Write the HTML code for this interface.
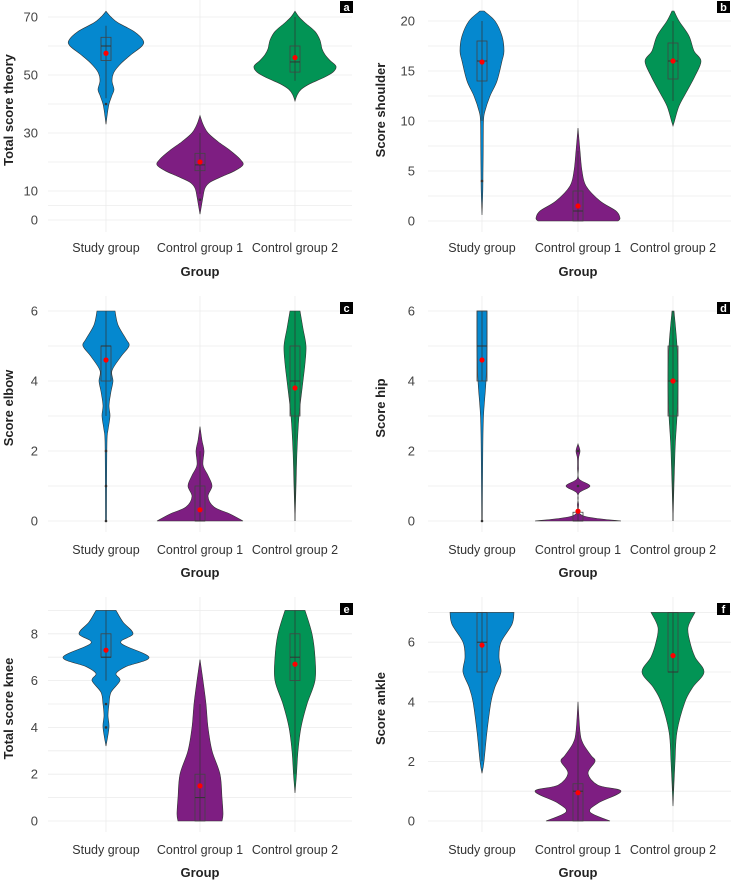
<!DOCTYPE html>
<html><head><meta charset="utf-8">
<style>
html,body{margin:0;padding:0;background:#fff;}
svg{display:block;font-family:"Liberation Sans",sans-serif;}
</style></head>
<body>
<svg id="chart" width="732" height="880" viewBox="0 0 732 880"></svg>
<script>
// ---------- data ----------
const categories = ["Study group","Control group 1","Control group 2"];
const tagLabels = ["a","b","c","d","e","f"];
const yTitles = ["Total score theory","Score shoulder","Score elbow","Score hip","Total score knee","Score ankle"];
const yTicksA = [0,10,30,50,70];
const yTicksB = [0,5,10,15,20];
const yTicksC = [0,2,4,6];
const yTicksD = [0,2,4,6];
const yTicksE = [0,2,4,6,8];
const yTicksF = [0,2,4,6];

// violin profiles: values and half-widths (density, px)
const a_study_y = [72,70,68,65,62,60,57,54,51,48,45,43,40,37,33];
const a_study_w = [0,5,12,28,37,36,25,15,8,6,8,6,3,1.5,0];
const a_c1_y = [36,33,30,27,24,21,19,17,15,13,11,8,5,2];
const a_c1_w = [0,3,8,18,30,40,43,35,22,10,5,3,1.5,0];
const a_c2_y = [72,70,68,65,62,59,57,55,53,51,49,47,45,43,41];
const a_c2_w = [0,4,10,20,25,27,30,35,41,38,28,15,6,2,0];

const b_study_y = [21,20,18.5,17,16,14,12.5,11,10,7,5,3,0.6];
const b_study_w = [2,13,20,22,20,15,8,3,1.5,1.2,1,0.8,0];
const b_c1_y = [9.3,7,5,3.5,2,1,0.3,0];
const b_c1_w = [0,2,4,8,22,38,42,40];
const b_c2_y = [21,20,18.5,17,16,14.5,13,11.5,10,9.5];
const b_c2_w = [1,6,16,21,28,22,14,6,1.5,0];

const c_study_y = [6,5.6,5.2,5,4.7,4.3,4,3.7,3.3,3,2.6,2.3,1,0];
const c_study_w = [9,12,20,23,15,6,7,5,3,4,2,1,0.6,0.5];
const c_c1_y = [2.7,2.3,2,1.6,1.3,1,0.7,0.4,0.2,0];
const c_c1_w = [0,2,4,3,8,12,8,14,30,43];
const c_c2_y = [6,5.5,5,4.5,4,3,2,1,0];
const c_c2_w = [5,8,11,10,8,4,2,1,0];

const d_study_y = [6,5,4,3,2,0];
const d_study_w = [5,5,4,1.5,0.8,0.3];
const d_c1_y = [2.2,2,1.8,1.5,1.2,1,0.8,0.5,0.15,0];
const d_c1_w = [0,2,0.6,0.5,1,12,1,0.5,5,43];
const d_c2_y = [6,5,4,3,2,0];
const d_c2_w = [1,4,5,4,2,0];

const e_study_y = [9,8.5,8,7.6,7,6.6,6.3,6,5.5,5,4.5,4,3.2];
const e_study_w = [10,17,27,15,43,20,10,14,5,3,2,3,0];
const e_c1_y = [6.9,6,5,4,3,2,1,0.3,0];
const e_c1_w = [0,3,6,8,12,20,22,23,22];
const e_c2_y = [9,8,7,6,5,4,3,2,1.2];
const e_c2_w = [10,17,20,20,12,6,3,1.5,0];

const f_study_y = [7,6.6,6,5.5,5,4.5,4,3,2,1.6];
const f_study_w = [32,30,19,17,19,13,9,5,2,0];
const f_c1_y = [4,3,2.6,2.2,2,1.6,1.2,1,0.6,0.3,0];
const f_c1_w = [0,2,5,13,17,10,20,43,20,12,32];
const f_c2_y = [7,6.5,6,5.5,5,4.5,4,3,2,0.5];
const f_c2_w = [22,15,17,22,31,20,12,4,2,0];

// box stats per panel [study, c1, c2]
const a_q1=[55,17,51], a_med=[60,19,54.5], a_q3=[63,23,60], a_lo=[42,9,48], a_hi=[67,30,70], a_mean=[57.5,20,56];
const b_q1=[14,0,14.2], b_med=[16,1,16], b_q3=[18,3,17.8], b_lo=[10,0,12], b_hi=[20,7,20], b_mean=[15.9,1.5,16];
const c_q1=[4,0,3], c_med=[5,0,4], c_q3=[5,1,5], c_lo=[3,0,0], c_hi=[6,2,6], c_mean=[4.6,0.32,3.8];
const d_q1=[4,0,3], d_med=[5,0,4], d_q3=[6,0.25,5], d_lo=[4,0,0], d_hi=[6,0.25,6], d_mean=[4.6,0.28,4];
const e_q1=[7,0,6], e_med=[7,1,7], e_q3=[8,2,8], e_lo=[6,0,2], e_hi=[9,5,9], e_mean=[7.3,1.5,6.7];
const f_q1=[5,0,5], f_med=[6,1,5], f_q3=[7,1.25,7], f_lo=[2,0,1], f_hi=[7,3,7], f_mean=[5.9,0.95,5.55];

const a_out=[[40],[7],[]], b_out=[[4],[],[]], c_out=[[2,1,0],[],[]], d_out=[[0],[1,2],[]], e_out=[[5,4],[],[]], f_out=[[],[],[]];

// ---------- layout ----------
const colors = ["#0588cf","#7e1e82","#029455"];
const NS = "http://www.w3.org/2000/svg";
const svg = document.getElementById("chart");
function mk(tag, attrs, parent){const e=document.createElementNS(NS,tag);for(const k in attrs)e.setAttribute(k,attrs[k]);(parent||svg).appendChild(e);return e;}

const L = {cx:[106,200,295], gx0:48, gx1:352, lab:38, title:13, tag:340};
const R = {cx:[482,578,673], gx0:428, gx1:731, lab:415, title:385, tag:717};
const panels = [
 {side:L, y0:220, ppu:2.9, top:0, bot:232, grid:[0,5,10,20,30,40,50,60,70], ticks:yTicksA, v:[[a_study_y,a_study_w],[a_c1_y,a_c1_w],[a_c2_y,a_c2_w]], q1:a_q1,med:a_med,q3:a_q3,lo:a_lo,hi:a_hi,mean:a_mean,out:a_out, xl:248, gt:272, tagY:1},
 {side:R, y0:221, ppu:10, top:0, bot:232, grid:[0,2.5,5,7.5,10,12.5,15,17.5,20], ticks:yTicksB, v:[[b_study_y,b_study_w],[b_c1_y,b_c1_w],[b_c2_y,b_c2_w]], q1:b_q1,med:b_med,q3:b_q3,lo:b_lo,hi:b_hi,mean:b_mean,out:b_out, xl:248, gt:272, tagY:1},
 {side:L, y0:521, ppu:35, top:296, bot:532, grid:[0,1,2,3,4,5,6], ticks:yTicksC, v:[[c_study_y,c_study_w],[c_c1_y,c_c1_w],[c_c2_y,c_c2_w]], q1:c_q1,med:c_med,q3:c_q3,lo:c_lo,hi:c_hi,mean:c_mean,out:c_out, xl:550, gt:573, tagY:302},
 {side:R, y0:521, ppu:35, top:296, bot:532, grid:[0,1,2,3,4,5,6], ticks:yTicksD, v:[[d_study_y,d_study_w],[d_c1_y,d_c1_w],[d_c2_y,d_c2_w]], q1:d_q1,med:d_med,q3:d_q3,lo:d_lo,hi:d_hi,mean:d_mean,out:d_out, xl:550, gt:573, tagY:302},
 {side:L, y0:821, ppu:23.4, top:597, bot:832, grid:[0,1,2,3,4,5,6,7,8,9], ticks:yTicksE, v:[[e_study_y,e_study_w],[e_c1_y,e_c1_w],[e_c2_y,e_c2_w]], q1:e_q1,med:e_med,q3:e_q3,lo:e_lo,hi:e_hi,mean:e_mean,out:e_out, xl:850, gt:873, tagY:603},
 {side:R, y0:821, ppu:29.8, top:597, bot:832, grid:[0,1,2,3,4,5,6,7], ticks:yTicksF, v:[[f_study_y,f_study_w],[f_c1_y,f_c1_w],[f_c2_y,f_c2_w]], q1:f_q1,med:f_med,q3:f_q3,lo:f_lo,hi:f_hi,mean:f_mean,out:f_out, xl:850, gt:873, tagY:603}
];

function crPath(pts){
  let d="";
  for(let i=0;i<pts.length-1;i++){
    const p0=pts[Math.max(0,i-1)],p1=pts[i],p2=pts[i+1],p3=pts[Math.min(pts.length-1,i+2)];
    const c1=[p1[0]+(p2[0]-p0[0])/6,p1[1]+(p2[1]-p0[1])/6];
    const c2=[p2[0]-(p3[0]-p1[0])/6,p2[1]-(p3[1]-p1[1])/6];
    d+=` C${c1[0].toFixed(2)},${c1[1].toFixed(2)} ${c2[0].toFixed(2)},${c2[1].toFixed(2)} ${p2[0].toFixed(2)},${p2[1].toFixed(2)}`;
  }
  return d;
}

panels.forEach((p,pi)=>{
  const s=p.side;
  const Y=v=>p.y0-v*p.ppu;
  const g=mk("g",{});
  
  
  // grid
  p.grid.forEach(v=>{
    const ln=mk("line",{x1:s.gx0,x2:s.gx1,y1:Y(v),y2:Y(v),stroke:"#ececec","stroke-width":0.8},g);
    
    
  });
  s.cx.forEach(cx=>{
    const ln=mk("line",{x1:cx,x2:cx,y1:p.top,y2:p.bot,stroke:"#ececec","stroke-width":0.8},g);
    
    
  });
  // ticks
  p.ticks.forEach(v=>{
    const t=mk("text",{x:s.lab,y:Y(v)+4.5,"text-anchor":"end","font-size":13,fill:"#444"},g);
    t.textContent=v;
    
    
  });
  // y title
  const cy=(p.top+p.bot)/2-6;
  const yt=mk("text",{x:s.title,y:cy,"text-anchor":"middle","font-size":13,"font-weight":"bold",fill:"#222",transform:`rotate(-90 ${s.title} ${cy})`},g);
  yt.textContent=yTitles[pi];
  
  
  // x labels
  categories.forEach((c,ci)=>{
    const t=mk("text",{x:s.cx[ci],y:p.xl+4,"text-anchor":"middle","font-size":12.5,fill:"#333"},g);
    t.textContent=c;
    
    
  });
  const gt=mk("text",{x:s.cx[1],y:p.gt+4,"text-anchor":"middle","font-size":13,"font-weight":"bold",fill:"#222"},g);
  gt.textContent="Group";
  
  
  // violins
  p.v.forEach((vw,ci)=>{
    const cx=s.cx[ci], ys=vw[0], ws=vw[1];
    const left=ys.map((v,i)=>[cx-ws[i],Y(v)]);
    const right=ys.map((v,i)=>[cx+ws[i],Y(v)]).reverse();
    let d=`M${left[0][0]},${left[0][1]}`+crPath(left)+` L${right[0][0]},${right[0][1]}`+crPath(right)+" Z";
    const path=mk("path",{d:d,fill:colors[ci],stroke:"#333","stroke-width":0.6},g);
    
    
    // whisker
    const wl=mk("line",{x1:cx,x2:cx,y1:Y(p.lo[ci]),y2:Y(p.hi[ci]),stroke:"#333","stroke-width":0.7},g);
    
    
    // box
    const bh=Math.max(Y(p.q1[ci])-Y(p.q3[ci]),0.5);
    const bx=mk("rect",{x:cx-5,y:Y(p.q3[ci]),width:10,height:bh,fill:"none",stroke:"#444","stroke-width":0.8},g);
    
    
    const md=mk("line",{x1:cx-5,x2:cx+5,y1:Y(p.med[ci]),y2:Y(p.med[ci]),stroke:"#333","stroke-width":1},g);
    
    
    p.out[ci].forEach(o=>{
      const oc=mk("circle",{cx:cx,cy:Y(o),r:1.3,fill:"#333"},g);
      
      
    });
    const mn=mk("circle",{cx:cx,cy:Y(p.mean[ci]),r:2.6,fill:"#ff0000"},g);
    
    
  });
  // tag
  const tr=mk("rect",{x:s.tag,y:p.tagY,width:13,height:12,fill:"#000"},g);
  
  
  const tt=mk("text",{x:s.tag+6.5,y:p.tagY+10,"text-anchor":"middle","font-size":11,"font-weight":"bold",fill:"#fff"},g);
  tt.textContent=tagLabels[pi];
  
  
});
</script>
</body></html>
